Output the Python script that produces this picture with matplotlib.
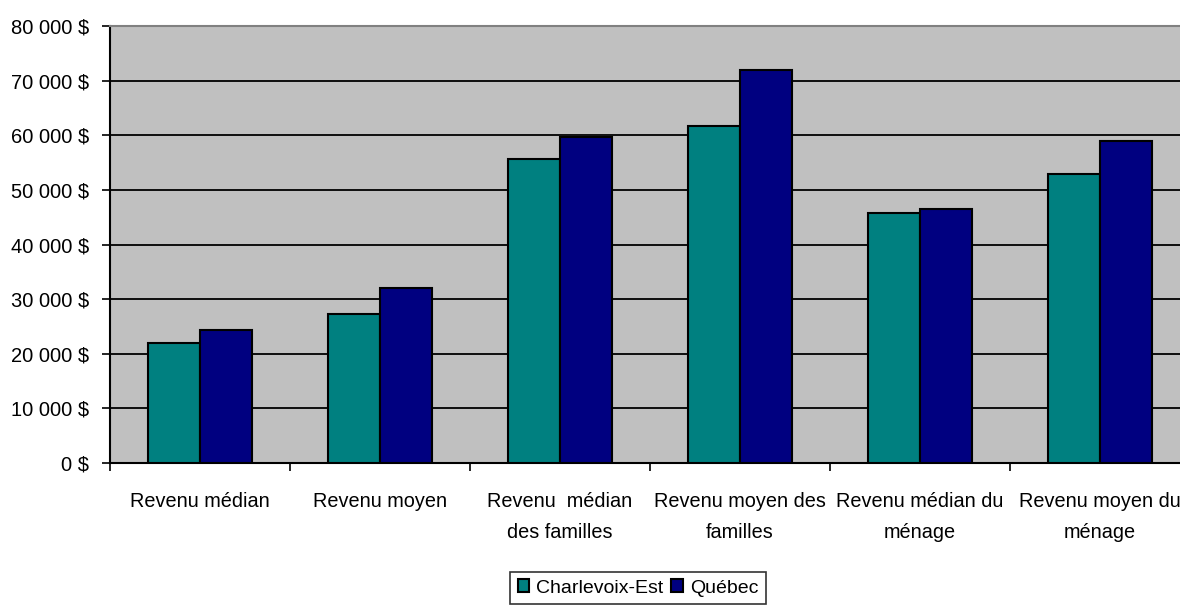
import numpy as np
import matplotlib.pyplot as plt
from matplotlib.ticker import FuncFormatter, MultipleLocator

plt.rcParams['font.family'] = ['Liberation Sans', 'DejaVu Sans']

# Income categories and values ($)
categories = ['Revenu médian', 'Revenu moyen', 'Revenu  médian\ndes familles',
              'Revenu moyen des\nfamilles', 'Revenu médian du\nménage',
              'Revenu moyen du\nménage']
charlevoix = [21900, 27300, 55700, 61700, 45800, 52900]
quebec = [24400, 32100, 59700, 71900, 46500, 59000]
series_names = ['Charlevoix-Est', 'Québec']

fig = plt.figure(figsize=(11.8, 6.1), dpi=100)
# axes runs slightly past the right edge of the figure
ax = fig.add_axes([110 / 1180, 1 - 463 / 610, 1080 / 1180, (463 - 26) / 610])
ax.set_facecolor('#C0C0C0')

x = np.arange(len(categories)) + 0.5
w = 0.29
ax.bar(x - w / 2, charlevoix, w, color='#008080', edgecolor='black', linewidth=1.5,
       label=series_names[0], zorder=3)
ax.bar(x + w / 2, quebec, w, color='#000080', edgecolor='black', linewidth=1.5,
       label=series_names[1], zorder=3)

ax.set_xlim(0, len(categories))
ax.set_ylim(0, 80000)
ax.yaxis.set_major_locator(MultipleLocator(10000))
ax.yaxis.set_major_formatter(FuncFormatter(lambda v, p: f'{int(v):,} $'.replace(',', ' ')))
ax.grid(axis='y', color='black', linewidth=1.3, zorder=1)

ax.set_xticks(x)
ax.set_xticklabels(categories, linespacing=1.8)
ax.set_xticks(np.arange(len(categories) + 1), minor=True)
ax.tick_params(axis='x', which='major', length=0, pad=21, labelsize=14.3)
ax.tick_params(axis='x', which='minor', length=6, width=1.2, direction='out')
ax.tick_params(axis='y', length=6, width=1.2, direction='out', pad=9, labelsize=14.5)

for s in ['left', 'bottom']:
    ax.spines[s].set_color('black')
    ax.spines[s].set_linewidth(1.5)
ax.spines['top'].set_color('#808080')
ax.spines['top'].set_linewidth(1.5)
ax.spines['right'].set_visible(False)

leg = fig.legend(loc='center', bbox_to_anchor=(638 / 1180, 1 - 588 / 610), ncol=2,
                 fontsize=14, frameon=True, fancybox=False, edgecolor='black',
                 handlelength=0.6, handleheight=0.6, handletextpad=0.35,
                 columnspacing=0.4, borderpad=0.4, borderaxespad=0)
leg.get_frame().set_linewidth(1.2)

fig.savefig('out.png', dpi=100)
